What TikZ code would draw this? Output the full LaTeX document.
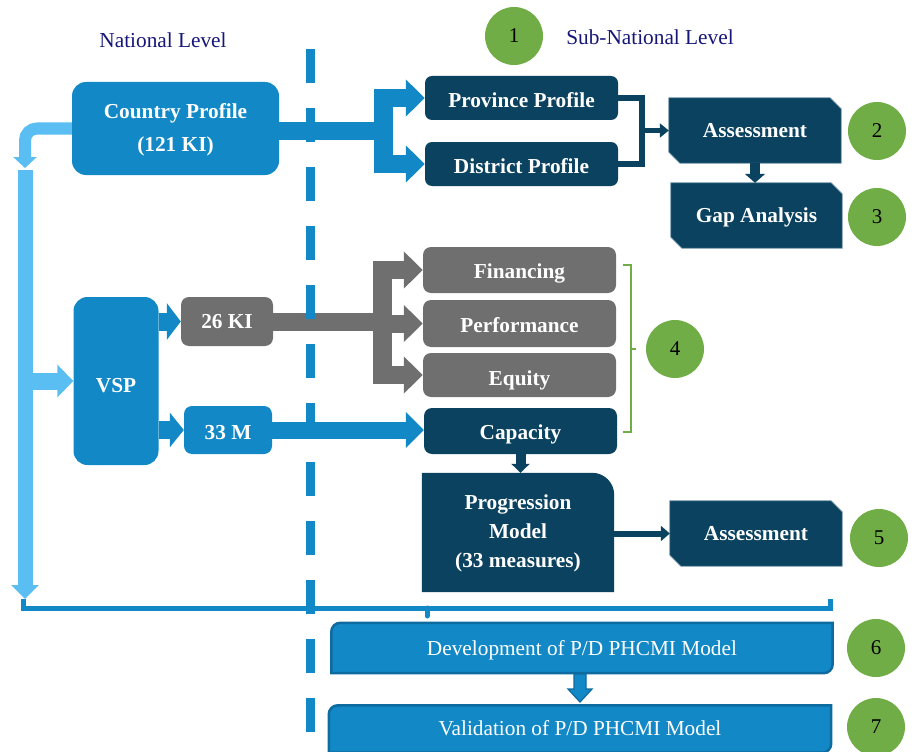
\documentclass[tikz,border=0pt]{standalone}
\usepackage{fontspec}
\setmainfont{Liberation Serif}
\usetikzlibrary{arrows.meta,backgrounds}
\definecolor{mblue}{HTML}{1289C6}
\definecolor{navy}{HTML}{0B4260}
\definecolor{gray6}{HTML}{6F6F6F}
\definecolor{lblue}{HTML}{5BBEF2}
\definecolor{grn}{HTML}{70AD47}
\definecolor{lbltext}{HTML}{16167A}
\definecolor{dblue}{HTML}{0D6BA0}
\definecolor{chamedge}{HTML}{6F93AA}
\newcommand\boxfont{\fontsize{21.3}{33}\selectfont\bfseries}
\newcommand\pmfont{\fontsize{21.3}{29}\selectfont\bfseries}
\newcommand\plainfont{\fontsize{21.3}{26}\selectfont}
\newcommand\numfont{\fontsize{21}{25}\selectfont}
\newcommand\chamfill[1]{\filldraw[fill=navy,draw=chamedge,line width=0.7pt] (#1.north west) -- ([xshift=-11pt]#1.north east) -- ([yshift=-11pt]#1.north east) -- (#1.south east) -- ([xshift=11pt]#1.south west) -- ([yshift=11pt]#1.south west) -- cycle;}
\newcommand\tlbrfill[1]{\filldraw[fill=mblue,draw=dblue,line width=2.5pt] ([yshift=-9pt]#1.north west) arc[start angle=180,end angle=90,radius=9pt] -- (#1.north east) -- ([yshift=9pt]#1.south east) arc[start angle=0,end angle=-90,radius=9pt] -- (#1.south west) -- cycle;}
\begin{document}
\begin{tikzpicture}[x=1pt,y=-1pt,
  bx/.style={inner sep=0pt, text=white, font=\boxfont, align=center},
  rb/.style={bx, rounded corners=#1},
  th/.style={text height=#1, text depth=0pt},
  num/.style={circle, fill=grn, minimum size=58pt, inner sep=0pt, font=\numfont, text=black},
  lbl/.style={font=\plainfont, text=lbltext, anchor=base},
  fatblue/.style={mblue, line width=18pt},
  fatgray/.style={gray6, line width=18pt},
  bigtip/.style={-{Triangle[length=19pt,width=36pt]}},
  navyln/.style={navy, line width=#1}
]
\useasboundingbox (0,0) rectangle (914,752);

% labels and numbers
\node[lbl] (natl) at (163,48) {National Level};
\node[lbl] (subn) at (650,45) {Sub-National Level};
\node[num] (n1) at (514,36) {1};
\node[num] (n2) at (877,131) {2};
\node[num] (n3) at (877,217) {3};
\node[num] (n4) at (675,349) {4};
\node[num] (n5) at (879,538) {5};
\node[num] (n6) at (876,648) {6};
\node[num] (n7) at (876,727) {7};

% boxes
\node[rb=14pt, fill=mblue, minimum width=207pt, minimum height=93pt, text height=47.5pt, text depth=2.5pt] (cp) at (175.5,128.5) {Country Profile\\(121 KI)};
\node[rb=7pt, fill=navy, minimum width=193pt, minimum height=44pt, th=18pt] (pp) at (521.5,98) {Province Profile};
\node[rb=7pt, fill=navy, minimum width=193pt, minimum height=44pt, th=18pt] (dp) at (521.5,164) {District Profile};
\node[bx, minimum width=172pt, minimum height=65pt, th=13pt] (as1) at (755,130.5) {Assessment};
\node[bx, minimum width=171pt, minimum height=65pt, th=13pt] (ga) at (756.5,215.5) {Gap Analysis};
\node[rb=14pt, fill=mblue, minimum width=85pt, minimum height=168pt, th=22pt] (vsp) at (116,381) {VSP};
\node[rb=8pt, fill=gray6, minimum width=92pt, minimum height=49pt, th=13pt] (ki) at (227,321.5) {26 KI};
\node[rb=8pt, fill=mblue, minimum width=88pt, minimum height=48pt, th=18pt] (m33) at (228,430) {33 M};
\node[rb=8pt, fill=gray6, minimum width=193pt, minimum height=46pt, th=16pt] (fin) at (519.5,270) {Financing};
\node[rb=8pt, fill=gray6, minimum width=193pt, minimum height=47pt, th=17pt] (perf) at (519.5,323.5) {Performance};
\node[rb=8pt, fill=gray6, minimum width=193pt, minimum height=44pt, th=20pt] (eq) at (519.5,375) {Equity};
\node[rb=8pt, fill=navy, minimum width=193pt, minimum height=46pt, th=16pt] (cap) at (520.5,431) {Capacity};
\node[bx, font=\pmfont, minimum width=192pt, minimum height=119pt, text height=72.5pt, text depth=3.5pt] (pm) at (518,532.5) {Progression\\Model\\(33 measures)};
\node[bx, minimum width=172pt, minimum height=65pt, th=13pt] (as2) at (756,533.5) {Assessment};
\node[bx, font=\plainfont, minimum width=501pt, minimum height=50pt, text height=16pt, text depth=2pt] (dev) at (582,648) {Development of P/D PHCMI Model};
\node[bx, font=\plainfont, minimum width=502pt, minimum height=47pt, text height=14pt, text depth=2pt] (val) at (580,729) {Validation of P/D PHCMI Model};

\begin{scope}[on background layer]
  \chamfill{as1}
  \chamfill{ga}
  \chamfill{as2}
  \fill[navy] (pm.south west) -- (pm.north west) -- ([xshift=-22pt]pm.north east) arc[start angle=90,end angle=0,radius=22pt] -- (pm.south east) -- cycle;
  \tlbrfill{dev}
  \tlbrfill{val}
\end{scope}

% light blue national flow
\coordinate (lbc) at (25,128.5);
\coordinate (lbh) at (25,168);
\coordinate (lbt) at (25,170);
\coordinate (lbb) at (25,599);
\coordinate (lbv) at (30,381);
\draw[lblue, line width=12pt, rounded corners=12pt, -{Triangle[length=11pt,width=23pt]}] (cp.west) -- (lbc) -- (lbh);
\draw[lblue, line width=15pt, -{Triangle[length=14pt,width=27pt]}] (lbt) -- (lbb);
\draw[lblue, line width=17pt, -{Triangle[length=16pt,width=32pt]}] (lbv) -- (vsp.west);

% blue fork from Country Profile
\coordinate (bfx) at (374,0);
\coordinate (bbarT) at (383.5,89);
\coordinate (bbarB) at (383.5,173);
\draw[fatblue] ([yshift=-2.5pt]cp.east) -- ([yshift=-2.5pt]cp.east -| bbarT);
\draw[mblue, line width=19pt] (bbarT) -- (bbarB);
\draw[fatblue, bigtip] (bfx |- pp.west) -- (pp.west);
\draw[fatblue, bigtip] (bfx |- dp.west) -- (dp.west);

% province / district to assessment
\coordinate (ex) at (642,0);
\draw[navyln=6pt] (pp.east) -- (ex |- pp.east) -- (ex |- dp.east) -- (dp.east);
\draw[navyln=5pt, -{Triangle[length=9pt,width=14pt]}] (ex |- as1.west) -- (as1.west);
\draw[navyln=10pt, -{Triangle[length=9pt,width=20pt]}] (as1.south) -- (as1.south |- ga.north);

% VSP outputs
\draw[fatblue, -{Triangle[length=14pt,width=36pt]}] (vsp.east |- ki.west) -- (ki.west);
\draw[fatblue, -{Triangle[length=14pt,width=34pt]}] (vsp.east |- m33.west) -- (m33.west);

% gray fork from 26 KI
\coordinate (gfx) at (373,0);
\coordinate (gbarT) at (382.5,261);
\coordinate (gbarB) at (382.5,384);
\draw[fatgray] (ki.east) -- (ki.east -| gbarT);
\draw[gray6, line width=19pt] (gbarT) -- (gbarB);
\draw[fatgray, bigtip] (gfx |- fin.west) -- (fin.west);
\draw[fatgray, bigtip] (gfx |- perf.west) -- (perf.west);
\draw[fatgray, bigtip] (gfx |- eq.west) -- (eq.west);

% 33 M to Capacity
\draw[mblue, line width=17pt, -{Triangle[length=18pt,width=35pt]}] (m33.east) -- (m33.east -| cap.west);

% Capacity -> Progression -> Assessment
\draw[navyln=10pt, -{Triangle[length=9pt,width=18pt]}] (cap.south) -- (cap.south |- pm.north);
\draw[navyln=6pt, -{Triangle[length=9pt,width=15pt]}] (pm.east |- as2.west) -- (as2.west);

% green bracket
\coordinate (gbT) at (623,265);
\coordinate (gbB) at (623,432);
\coordinate (gbM) at (631,349);
\draw[grn, line width=2.5pt] (gbT) -- ++(8,0) -- ++(0,167) -- (gbB);
\draw[grn, line width=2.5pt] (gbM) -- ++(5,0);

% bottom bracket
\coordinate (bkL) at (23,599);
\coordinate (bkR) at (830,599);
\coordinate (bkS) at (427,608);
\draw[mblue, line width=5pt] (bkL) -- (23,608) -- (830,608) -- (bkR);
\draw[mblue, line width=5pt, line cap=round] (bkS) -- ++(0,8);

% development -> validation
\filldraw[fill=mblue, draw=dblue, line width=1.3pt] (574,674) -- (586,674) -- (586,689) -- (592,689) -- (580,702) -- (568,689) -- (574,689) -- cycle;

% dashed divider
\draw[mblue, line width=9pt, dash pattern=on 34pt off 25pt] (310.5,49) -- (310.5,752);
\end{tikzpicture}
\end{document}
